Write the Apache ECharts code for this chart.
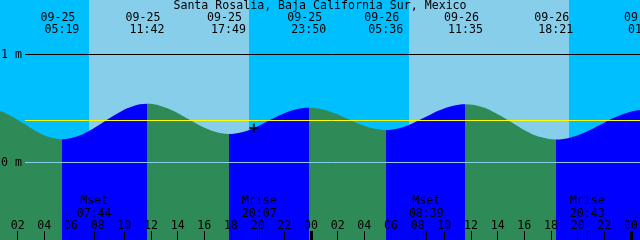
<!DOCTYPE html>
<html><head><meta charset="utf-8">
<script src="https://cdn.jsdelivr.net/npm/echarts@6/dist/echarts.min.js"></script>
<style>html,body{margin:0;padding:0;background:#00BFFF}#c{width:640px;height:240px}</style>
</head><body><div id="c"></div>
<script>
// ---------------- data (hours counted from 09-25 00:00) ----------------
const chartTitle = 'Santa Rosalia, Baja California Sur, Mexico';
const tideEventLabels = ['09-25 05:19','09-25 11:42','09-25 17:49','09-25 23:50','09-26 05:36','09-26 11:35','09-26 18:21','09-27 01:05'];
const tideEventTypes  = ['L','H','L','H','L','H','L','H'];
const tideEventLevels = [0.216,0.543,0.265,0.506,0.302,0.540,0.213,0.490];
const curveHours  = [-0.35,0.59,1.54,2.48,3.43,4.37,5.32,6.38,7.44,8.51,9.57,10.64,11.70,12.72,13.74,14.76,15.78,16.80,17.82,18.82,19.82,20.82,21.83,22.83,23.83,24.79,25.76,26.72,27.68,28.64,29.60,30.60,31.59,32.59,33.59,34.59,35.58,36.71,37.84,38.97,40.09,41.22,42.35,43.48,44.60,45.73,46.85,47.98,49.10];
const curveLevels = [0.500,0.481,0.429,0.358,0.287,0.235,0.216,0.238,0.298,0.380,0.461,0.521,0.543,0.524,0.474,0.404,0.335,0.284,0.265,0.281,0.325,0.386,0.446,0.490,0.506,0.492,0.455,0.404,0.353,0.316,0.302,0.318,0.362,0.421,0.481,0.524,0.540,0.518,0.458,0.377,0.295,0.235,0.213,0.232,0.282,0.352,0.421,0.471,0.490];
const sunriseTimes = ['09-25 07:21','09-26 07:21'];
const sunsetTimes  = ['09-25 19:21','09-26 19:21'];
const moonEventTimes = ['09-25 07:44','09-25 20:07','09-26 08:39','09-26 20:43'];
const moonEventNames = ['Mset','Mrise','Mset','Mrise'];
const hourTicks = [2,4,6,8,10,12,14,16,18,20,22,24,26,28,30,32,34,36,38,40,42,44,46,48];
const midnightTicks = [24,48];
const refLevels = [1, 0, 0.389];           // 1 m, 0 m, mean level
const levelLabels = [1, 0];
const markerTime = '09-25 19:43';
const markerLevel = 0.32;

// ---------------- styling ----------------
const FONT = 'DejaVu Sans Mono';
const FS = 11.6;
const RISE = '#0000FF', FALL = '#2E8B57', NIGHT = '#00BFFF', DAY = '#87CEEB';
const refColors = ['#000000', '#87CEEB', '#FFFF00'];
const X_MIN = 0.675, X_MAX = 48.675, Y_MIN = -0.7176, Y_MAX = 1.5046;

function toHours(s){
  const [d, t] = s.split(' ');
  const day = parseInt(d.split('-')[1], 10) - 25;
  const [hh, mm] = t.split(':').map(Number);
  return day*24 + hh + mm/60;
}
const pad = n => (n < 10 ? '0' : '') + n;

const evHours = tideEventLabels.map(toHours);
const pieces = [];
evHours.forEach((h, i) => {
  const color = tideEventTypes[i] === 'H' ? RISE : FALL;
  if (i === 0) pieces.push({lt: h, color});
  else pieces.push({gte: evHours[i-1], lt: h, color});
});
pieces.push({gte: evHours[evHours.length-1], color: tideEventTypes[evHours.length-1] === 'H' ? FALL : RISE});

const textStyle = {font: FS + 'px "' + FONT + '"', fill: '#000', textAlign: 'center', textVerticalAlign: 'middle'};
const txt = (text, x, y, extra) => ({type: 'text', x, y, style: Object.assign({text}, textStyle, extra || {})});

const chart = echarts.init(document.getElementById('c'), null, {renderer: 'canvas'});
chart.setOption({
  animation: false,
  backgroundColor: NIGHT,
  title: {text: chartTitle, left: 'center', top: 0, padding: 0,
    textStyle: {fontFamily: FONT, fontSize: FS, fontWeight: 'normal', color: '#000', lineHeight: 12}},
  grid: {left: 0, right: 0, top: 0, bottom: 0, containLabel: false},
  xAxis: {type: 'value', min: X_MIN, max: X_MAX, show: false},
  yAxis: {type: 'value', min: Y_MIN, max: Y_MAX, show: false},
  visualMap: {type: 'piecewise', show: false, dimension: 0, seriesIndex: 1, pieces},
  series: [
    { // daylight bands
      type: 'custom', z: 0, silent: true,
      data: sunriseTimes.map((s, i) => [toHours(s), toHours(sunsetTimes[i])]),
      renderItem(params, api){
        const p0 = api.coord([api.value(0), Y_MAX]);
        const p1 = api.coord([api.value(1), Y_MIN]);
        return {type: 'rect', shape: {x: p0[0], y: p0[1], width: p1[0]-p0[0], height: p1[1]-p0[1]}, style: {fill: DAY}};
      }
    },
    { // tide curve
      type: 'line', z: 2, silent: true, smooth: 0.4, symbol: 'none',
      data: curveHours.map((h, i) => [h, curveLevels[i]]),
      lineStyle: {width: 0, opacity: 0},
      areaStyle: {opacity: 1, origin: 'start'}
    },
    { // reference lines
      type: 'custom', z: 5, silent: true,
      data: refLevels.map((v, i) => [X_MIN, v, i]),
      renderItem(params, api){
        const y = Math.round(api.coord([api.value(0), api.value(1)])[1] - 0.5) + 0.5;
        return {type: 'line', shape: {x1: 25, y1: y, x2: 640, y2: y},
          style: {stroke: refColors[api.value(2)], lineWidth: 1}};
      }
    },
    { // level labels
      type: 'custom', z: 6, silent: true, clip: false,
      data: levelLabels.map(v => [X_MIN, v]),
      renderItem(params, api){
        const y = api.coord([api.value(0), api.value(1)])[1];
        return txt(api.value(1) + ' m', 1, y, {textAlign: 'left'});
      }
    },
    { // hour ticks and labels
      type: 'custom', z: 6, silent: true, clip: false,
      data: hourTicks.map(h => [h, 0]),
      renderItem(params, api){
        const v = api.value(0);
        const x = api.coord([v, 0])[0];
        const xl = Math.floor(x) + 0.5;
        return {type: 'group', children: [
          {type: 'line', shape: {x1: xl, y1: 231, x2: xl, y2: 240}, style: {stroke: '#000', lineWidth: 1}},
          txt(pad(Math.round(v) % 24), x, 226)
        ]};
      }
    },
    { // tide event labels on top
      type: 'custom', z: 6, silent: true, clip: false,
      data: evHours.map((h, i) => [h, tideEventLevels[i], i]),
      renderItem(params, api){
        const x = api.coord([api.value(0), 0])[0];
        const lbl = tideEventLabels[api.value(2)].split(' ');
        return {type: 'group', children: [txt(lbl[0], x - 4, 17.5), txt(lbl[1], x, 30)]};
      }
    },
    { // moon events at bottom
      type: 'custom', z: 6, silent: true, clip: false,
      data: moonEventTimes.map((s, i) => [toHours(s), 0, i]),
      renderItem(params, api){
        const x = api.coord([api.value(0), 0])[0];
        const i = api.value(2);
        const xl = Math.floor(x) + 0.5;
        return {type: 'group', children: [
          {type: 'line', shape: {x1: xl, y1: 231, x2: xl, y2: 240}, style: {stroke: '#000', lineWidth: 1}},
          txt(moonEventNames[i], x, 201),
          txt(moonEventTimes[i].split(' ')[1], x, 213.5)
        ]};
      }
    },
    { // midnight ticks
      type: 'custom', z: 7, silent: true, clip: false,
      data: midnightTicks.map(h => [h, 0]),
      renderItem(params, api){
        const x = api.coord([api.value(0), 0])[0];
        return {type: 'rect', shape: {x: Math.round(x) - 1, y: 231, width: 3, height: 9}, style: {fill: '#000'}};
      }
    },
    { // current time marker
      type: 'scatter', z: 7, silent: true,
      data: [[toHours(markerTime), markerLevel]],
      symbol: 'path://M3.5,0H5.5V3.5H9V5.5H5.5V9H3.5V5.5H0V3.5H3.5Z', symbolSize: 9,
      itemStyle: {color: '#000'}
    }
  ]
});
</script></body></html>
